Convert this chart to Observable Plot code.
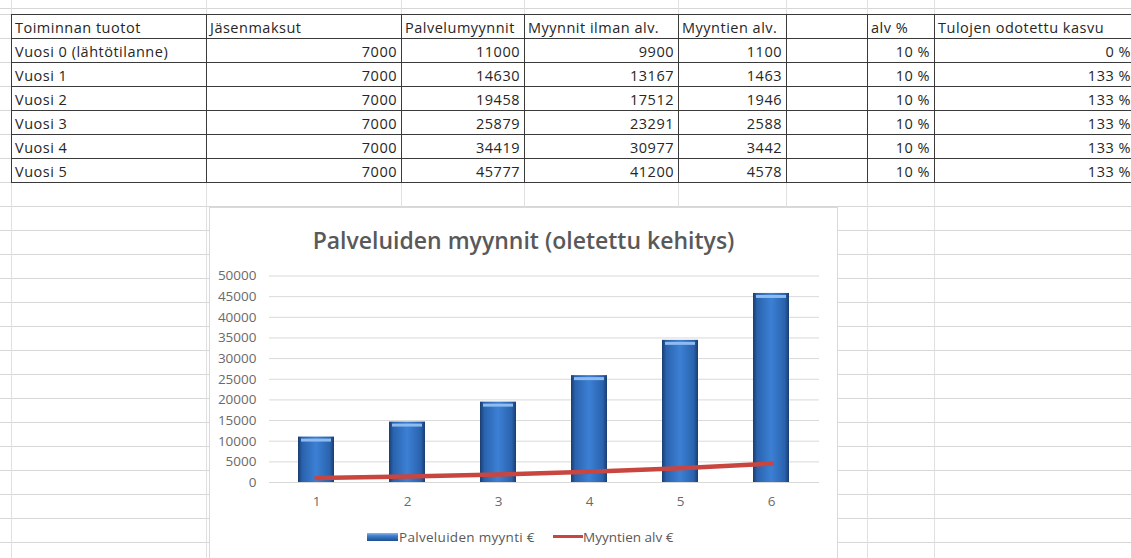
<!DOCTYPE html>
<html><head><meta charset="utf-8">
<script src="https://cdn.jsdelivr.net/npm/d3@7"></script>
<script src="https://cdn.jsdelivr.net/npm/@observablehq/plot@0.6"></script>
<style>
html,body{margin:0;padding:0;background:#fff;}
#page{position:relative;width:1131px;height:558px;overflow:hidden;background:#fff;font-family:"Open Sans",sans-serif;}
#hgrid{position:absolute;left:0;top:0;width:1131px;height:558px;background-image:repeating-linear-gradient(to bottom,#d6d6d6 0px,#d6d6d6 1px,transparent 1px,transparent 24px);background-position:0 14px;}
.vline{position:absolute;top:0;width:1px;height:558px;background:#e0e0e0;}
#sheet{position:absolute;left:11px;top:14px;border-collapse:collapse;table-layout:fixed;width:1124px;background:#fff;}
#sheet td{border:1px solid #3a3a3a;height:24px;padding:2px 4px 0 3px;box-sizing:border-box;font-size:14.5px;letter-spacing:0.5px;color:#262626;white-space:nowrap;overflow:hidden;line-height:20px;}
#sheet td.num{text-align:right;}
#chartbox{position:absolute;left:209px;top:207px;width:629px;height:360px;background:#fff;border:1px solid #d9d9d9;box-sizing:border-box;}
#title{position:absolute;left:0;width:100%;top:17px;text-align:center;font-size:23px;font-weight:600;color:#595959;line-height:30px;}
#plot{position:absolute;left:0;top:0;}
.leg{position:absolute;top:319px;font-size:13.5px;letter-spacing:0.3px;color:#595959;line-height:20px;white-space:nowrap;}
.sw{position:absolute;}
</style>
</head><body>
<div id="page">
  <div id="hgrid"></div>
  <div id="vlines"></div>
  <table id="sheet"></table>
  <div id="chartbox">
    <div id="plot"></div>
    <div id="title">Palveluiden myynnit (oletettu kehitys)</div>
    <div class="sw" style="left:157px;top:325px;width:31px;height:8px;background:linear-gradient(to bottom,#8cb8ea 0,#3f7fcf 35%,#1f4f8f 100%);"></div>
    <div class="leg" style="left:189px;">Palveluiden myynti €</div>
    <div class="sw" style="left:343px;top:327px;width:30px;height:3px;background:#c8463f;"></div>
    <div class="leg" style="left:373px;letter-spacing:0;">Myyntien alv €</div>
  </div>
</div>
<script>
// ---- Taulukon tiedot ----
const otsikot = ["Toiminnan tuotot","Jäsenmaksut","Palvelumyynnit","Myynnit ilman alv.","Myyntien alv.","","alv %","Tulojen odotettu kasvu"];
const vuodet = ["Vuosi 0 (lähtötilanne)","Vuosi 1","Vuosi 2","Vuosi 3","Vuosi 4","Vuosi 5"];
const jasenmaksut = [7000,7000,7000,7000,7000,7000];
const palvelumyynnit = [11000,14630,19458,25879,34419,45777];
const myynnitIlmanAlv = [9900,13167,17512,23291,30977,41200];
const myyntienAlv = [1100,1463,1946,2588,3442,4578];
const alvProsentti = [10,10,10,10,10,10];
const kasvuProsentti = [0,133,133,133,133,133];
// ---- Kaavion tiedot ----
const kategoriat = [1,2,3,4,5,6];
const yTicks = [0,5000,10000,15000,20000,25000,30000,35000,40000,45000,50000];

// spreadsheet column borders
const colWidths = [195,195,123,154,108,81,67,201];
const vl = document.getElementById("vlines");
let x = 11;
const xs = [x];
colWidths.forEach(w => { x += w; xs.push(x); });
xs.forEach(px => { const d = document.createElement("div"); d.className = "vline"; d.style.left = px + "px"; vl.appendChild(d); });

// table
const tbl = document.getElementById("sheet");
const cg = document.createElement("colgroup");
colWidths.forEach(w => { const c = document.createElement("col"); c.style.width = w + "px"; cg.appendChild(c); });
tbl.appendChild(cg);
const addRow = (cells) => {
  const tr = document.createElement("tr");
  cells.forEach(([t, num]) => { const td = document.createElement("td"); td.textContent = t; if (num) td.className = "num"; tr.appendChild(td); });
  tbl.appendChild(tr);
};
addRow(otsikot.map(t => [t, false]));
vuodet.forEach((v, i) => addRow([
  [v, false], [String(jasenmaksut[i]), true], [String(palvelumyynnit[i]), true],
  [String(myynnitIlmanAlv[i]), true], [String(myyntienAlv[i]), true], ["", false],
  [alvProsentti[i] + " %", true], [kasvuProsentti[i] + " %", true]
]));

// chart
const rows = kategoriat.map((k, i) => ({kat: k, palvelu: palvelumyynnit[i], alv: myyntienAlv[i]}));
const svg = Plot.plot({
  width: 627, height: 310,
  marginLeft: 59, marginRight: 18, marginTop: 67.5, marginBottom: 36,
  style: {fontFamily: "Open Sans", fontSize: "13.5px", color: "#6a6a6a", background: "transparent", overflow: "visible"},
  x: {type: "band", domain: kategoriat, paddingInner: 0.6, paddingOuter: 0.3, label: null},
  y: {domain: [0, 50000], label: null},
  marks: [
    Plot.gridY(yTicks, {stroke: "#d9d9d9", strokeOpacity: 1}),
    Plot.axisY(yTicks, {tickSize: 0, tickPadding: 13, tickFormat: d => String(d)}),
    Plot.axisX({tickSize: 0, tickPadding: 14}),
    Plot.barY(rows, {x: "kat", y: "palvelu", fill: "url(#barGrad)"}),
    Plot.tickY(rows, {x: "kat", y: "palvelu", stroke: "#8ebcf0", strokeWidth: 3, dy: 3, inset: 3}),
    Plot.line(rows, {x: "kat", y: "alv", stroke: "#c8463f", strokeWidth: 4.5})
  ]
});
const defs = d3.select(svg).insert("defs", ":first-child");
const g = defs.append("linearGradient").attr("id", "barGrad").attr("x1", 0).attr("x2", 1).attr("y1", 0).attr("y2", 0);
[[0, "#1a3d70"], [0.12, "#2a63ae"], [0.5, "#3c80d4"], [0.88, "#2a63ae"], [1, "#1a3d70"]].forEach(([o, c]) => g.append("stop").attr("offset", o).attr("stop-color", c));
document.getElementById("plot").appendChild(svg);
</script>
</body></html>
